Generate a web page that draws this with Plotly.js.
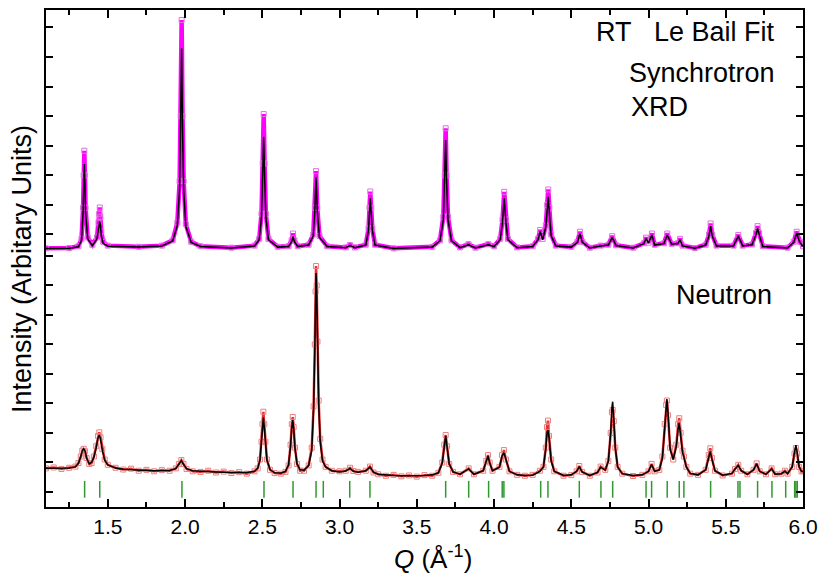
<!DOCTYPE html>
<html>
<head>
<meta charset="utf-8">
<script src="https://cdn.plot.ly/plotly-3.0.1.min.js"></script>
<style>html,body{margin:0;padding:0;background:#fff;}#chart{width:821px;height:574px;}</style>
</head>
<body>
<div id="chart"></div>
<script>
// ---- Synchrotron XRD (RT, Le Bail fit) ----
const xrdQ = [1.10,1.25,1.31,1.33,1.34,1.344,1.348,1.352,1.356,1.37,1.40,1.43,1.44,1.444,1.448,1.452,1.458,1.47,1.50,1.70,1.85,1.92,1.95,1.965,1.972,1.978,1.984,1.991,2.005,2.04,2.10,2.30,2.45,2.48,2.495,2.503,2.509,2.515,2.523,2.54,2.60,2.67,2.69,2.699,2.708,2.73,2.80,2.83,2.840,2.848,2.856,2.87,2.92,3.04,3.068,3.10,3.17,3.188,3.194,3.199,3.205,3.212,3.23,3.35,3.60,3.65,3.672,3.681,3.687,3.693,3.702,3.725,3.78,3.835,3.88,3.963,4.00,4.04,4.055,4.066,4.077,4.09,4.15,4.25,4.285,4.299,4.315,4.335,4.344,4.351,4.358,4.37,4.40,4.50,4.54,4.556,4.572,4.62,4.690,4.74,4.765,4.79,4.90,4.97,4.984,5.000,5.022,5.04,5.10,5.121,5.15,5.19,5.204,5.22,5.30,5.37,5.392,5.402,5.412,5.44,5.55,5.581,5.61,5.67,5.696,5.706,5.716,5.74,5.90,5.94,5.959,5.98,6.00];
const xrdObs = [0.53,0.54,0.60,0.85,1.90,3.00,3.83,3.00,1.90,0.90,0.65,0.90,1.40,1.70,1.91,1.60,1.10,0.75,0.62,0.58,0.62,0.80,1.40,2.80,5.00,8.25,5.00,2.80,1.35,0.75,0.60,0.55,0.62,0.85,1.70,3.40,5.07,3.40,1.70,0.85,0.58,0.60,0.80,1.03,0.80,0.60,0.65,1.00,1.90,3.14,1.90,0.95,0.60,0.56,0.64,0.56,0.65,1.20,1.90,2.45,1.90,1.20,0.65,0.53,0.58,0.80,1.60,3.00,4.59,3.00,1.60,0.80,0.56,0.67,0.55,0.67,0.60,0.85,1.50,2.44,1.50,0.85,0.56,0.60,0.85,1.15,0.85,1.30,2.00,2.52,1.90,1.00,0.62,0.58,0.75,1.09,0.75,0.55,0.62,0.65,0.94,0.63,0.55,0.70,0.89,0.72,1.03,0.65,0.70,1.03,0.68,0.70,0.85,0.62,0.54,0.65,1.00,1.37,1.00,0.62,0.62,0.98,0.62,0.66,1.05,1.28,1.05,0.60,0.55,0.75,1.09,0.75,0.60];
const xrdCalc = [0.52,0.53,0.58,0.80,1.75,2.75,3.38,2.75,1.75,0.85,0.62,0.85,1.20,1.38,1.43,1.35,0.95,0.70,0.60,0.57,0.61,0.78,1.30,2.55,4.50,7.30,4.50,2.55,1.28,0.73,0.59,0.54,0.61,0.82,1.60,3.00,4.30,3.00,1.60,0.82,0.57,0.59,0.75,0.92,0.75,0.59,0.64,0.95,1.80,2.93,1.80,0.90,0.59,0.55,0.62,0.55,0.64,1.15,1.75,2.22,1.75,1.15,0.64,0.52,0.57,0.78,1.50,2.80,4.19,2.80,1.50,0.78,0.55,0.65,0.54,0.65,0.59,0.82,1.40,2.22,1.40,0.82,0.55,0.59,0.82,1.10,0.82,1.25,1.85,2.27,1.75,0.95,0.61,0.57,0.73,1.02,0.73,0.54,0.61,0.64,0.90,0.62,0.54,0.69,0.86,0.71,0.98,0.64,0.69,0.98,0.67,0.69,0.82,0.61,0.53,0.64,0.95,1.28,0.95,0.61,0.61,0.94,0.61,0.65,1.00,1.20,1.00,0.59,0.54,0.73,1.03,0.73,0.59];

// ---- Neutron ----
const neuQ = [1.10,1.15,1.20,1.25,1.29,1.31,1.325,1.335,1.344,1.353,1.363,1.38,1.395,1.41,1.425,1.437,1.445,1.453,1.465,1.48,1.50,1.55,1.60,1.65,1.70,1.75,1.80,1.85,1.90,1.94,1.96,1.976,1.99,2.01,2.05,2.10,2.15,2.20,2.25,2.30,2.35,2.40,2.45,2.47,2.485,2.495,2.501,2.507,2.513,2.52,2.53,2.55,2.58,2.62,2.65,2.67,2.683,2.691,2.697,2.703,2.712,2.725,2.745,2.77,2.80,2.82,2.832,2.840,2.845,2.848,2.852,2.857,2.865,2.875,2.89,2.91,2.95,3.00,3.04,3.068,3.09,3.12,3.17,3.197,3.22,3.25,3.30,3.35,3.40,3.45,3.50,3.55,3.60,3.64,3.665,3.678,3.687,3.696,3.71,3.735,3.78,3.836,3.87,3.93,3.950,3.961,3.972,3.99,4.035,4.052,4.064,4.077,4.10,4.15,4.20,4.25,4.297,4.32,4.335,4.343,4.349,4.356,4.37,4.39,4.45,4.50,4.535,4.552,4.57,4.62,4.67,4.690,4.72,4.74,4.755,4.763,4.768,4.775,4.785,4.80,4.83,4.90,4.96,5.00,5.020,5.04,5.07,5.09,5.105,5.114,5.119,5.126,5.14,5.16,5.18,5.192,5.199,5.208,5.22,5.229,5.245,5.27,5.32,5.37,5.39,5.400,5.41,5.43,5.48,5.54,5.56,5.581,5.60,5.64,5.68,5.700,5.72,5.76,5.797,5.82,5.86,5.883,5.90,5.93,5.945,5.954,5.962,5.975,5.99,6.00];
const neuObs = [0.80,0.83,0.78,0.82,0.86,0.98,1.20,1.40,1.46,1.38,1.15,0.95,0.98,1.20,1.55,1.90,2.02,1.85,1.45,1.10,0.92,0.82,0.76,0.79,0.72,0.75,0.70,0.74,0.72,0.80,0.95,1.08,0.95,0.78,0.70,0.68,0.72,0.66,0.69,0.64,0.67,0.62,0.70,0.80,1.10,1.70,2.30,2.72,2.30,1.70,1.10,0.75,0.64,0.62,0.68,0.90,1.60,2.30,2.54,2.20,1.50,0.95,0.72,0.72,0.90,1.50,2.90,5.00,6.80,7.66,7.00,5.10,3.10,1.80,1.10,0.85,0.72,0.70,0.72,0.82,0.71,0.68,0.72,0.86,0.66,0.60,0.55,0.58,0.53,0.56,0.52,0.57,0.55,0.65,1.00,1.60,1.93,1.55,0.95,0.68,0.60,0.80,0.60,0.72,1.05,1.25,1.00,0.72,0.85,1.25,1.42,1.10,0.70,0.58,0.55,0.58,0.72,0.85,1.50,2.20,2.42,1.90,1.10,0.70,0.55,0.57,0.70,0.88,0.68,0.55,0.66,0.86,0.75,1.05,2.00,2.70,2.78,2.40,1.50,0.85,0.62,0.54,0.58,0.70,0.95,0.70,0.75,1.20,2.30,2.95,3.10,2.60,1.50,1.10,1.60,2.30,2.50,2.00,1.40,1.20,0.85,0.62,0.58,0.75,1.25,1.48,1.15,0.72,0.56,0.62,0.78,0.92,0.72,0.60,0.75,0.97,0.70,0.60,0.80,0.60,0.62,0.72,0.62,0.85,1.30,1.49,1.30,0.85,0.70,0.70];
const neuCalc = [0.80,0.80,0.80,0.81,0.85,0.97,1.20,1.40,1.47,1.38,1.15,0.95,1.00,1.18,1.50,1.85,1.93,1.80,1.40,1.08,0.92,0.81,0.77,0.75,0.74,0.73,0.72,0.72,0.73,0.79,0.95,1.06,0.94,0.79,0.72,0.70,0.69,0.68,0.67,0.66,0.66,0.66,0.70,0.80,1.08,1.65,2.20,2.52,2.20,1.62,1.08,0.76,0.65,0.64,0.70,0.92,1.55,2.20,2.44,2.15,1.45,0.95,0.75,0.74,0.90,1.40,2.80,4.80,6.60,7.42,6.80,4.90,3.00,1.70,1.05,0.85,0.72,0.68,0.71,0.80,0.70,0.67,0.72,0.84,0.67,0.60,0.57,0.56,0.55,0.55,0.55,0.56,0.58,0.65,0.98,1.55,1.90,1.52,0.95,0.68,0.60,0.78,0.60,0.72,1.02,1.22,0.98,0.72,0.84,1.22,1.33,1.08,0.70,0.58,0.56,0.57,0.70,0.85,1.45,2.00,2.10,1.85,1.05,0.70,0.56,0.58,0.70,0.86,0.68,0.56,0.66,0.84,0.74,1.05,2.00,2.85,3.06,2.50,1.50,0.85,0.62,0.56,0.58,0.70,0.93,0.70,0.75,1.15,2.30,3.00,3.15,2.70,1.45,1.10,1.55,2.15,2.33,1.90,1.35,1.18,0.85,0.63,0.58,0.75,1.20,1.37,1.12,0.72,0.57,0.63,0.78,0.90,0.72,0.60,0.75,0.95,0.70,0.60,0.78,0.60,0.62,0.70,0.62,0.85,1.35,1.59,1.35,0.85,0.70,0.68];

// ---- Bragg reflection positions ----
const braggQ = [1.350,1.448,1.980,2.511,2.699,2.848,2.895,3.066,3.197,3.687,3.836,3.965,4.053,4.064,4.302,4.349,4.552,4.692,4.768,4.984,5.020,5.121,5.199,5.229,5.402,5.579,5.592,5.706,5.799,5.888,5.946,5.954,5.963];

const fam = 'Arial, "Liberation Sans", sans-serif';
const xTickFont = {family: fam, size: 21, color: '#000'};
const txtFont = {family: fam, size: 27, color: '#000'};

const traces = [
  {x: xrdQ, y: xrdObs, yaxis: 'y2', type: 'scatter', mode: 'lines+markers',
   line: {color: '#ff00ff', width: 4.5},
   marker: {symbol: 'square-open', size: 5, color: '#e070e0', line: {width: 1}},
   name: 'XRD obs'},
  {x: xrdQ, y: xrdCalc, yaxis: 'y2', type: 'scatter', mode: 'lines',
   line: {color: '#000', width: 1.5}, name: 'XRD calc'},
  {x: neuQ, y: neuObs, type: 'scatter', mode: 'lines+markers',
   line: {color: '#ee3030', width: 2.5},
   marker: {symbol: 'square-open', size: 5, color: '#e88080', line: {width: 1}},
   name: 'Neutron obs'},
  {x: neuQ, y: neuCalc, type: 'scatter', mode: 'lines',
   line: {color: '#000', width: 1.5}, name: 'Neutron calc'},
  {x: braggQ, y: braggQ.map(() => 0.09), type: 'scatter', mode: 'markers',
   marker: {symbol: 'line-ns', size: 12, line: {color: '#2e9a2e', width: 1.5}},
   name: 'Bragg'}
];

const layout = {
  width: 821, height: 574,
  margin: {l: 46, r: 18, t: 10, b: 67},
  paper_bgcolor: '#fff', plot_bgcolor: '#fff',
  showlegend: false,
  xaxis: {
    range: [1.1, 6.0], dtick: 0.5, tick0: 0, tickformat: '.1f',
    ticks: 'inside', ticklen: 8, tickwidth: 2, tickcolor: '#000',
    showline: true, linewidth: 2, linecolor: '#000', mirror: 'ticks',
    showgrid: false, zeroline: false, tickfont: xTickFont,
    minor: {dtick: 0.25, tick0: 0, ticks: 'inside', ticklen: 5, tickwidth: 2, tickcolor: '#000', showgrid: false}
  },
  yaxis: {
    range: [-0.51, 16.34], tickvals: [0,1,2,3,4,5,6,7,8],
    showticklabels: false, ticks: 'inside', ticklen: 7, tickwidth: 2, tickcolor: '#000',
    showline: true, linewidth: 2, linecolor: '#000', mirror: 'ticks',
    showgrid: false, zeroline: false
  },
  yaxis2: {
    overlaying: 'y', anchor: 'x', side: 'left',
    range: [-8.22, 8.59], tickvals: [1,2,3,4,5,6,7,8],
    showticklabels: false, ticks: 'inside', ticklen: 7, tickwidth: 2, tickcolor: '#000',
    showline: true, linewidth: 2, linecolor: '#000', mirror: 'ticks',
    showgrid: false, zeroline: false
  },
  annotations: [
    {text: 'RT\u00a0\u00a0\u00a0Le Bail Fit', xref: 'paper', yref: 'paper', x: (777-46)/757, y: (507-32)/497,
     xanchor: 'right', yanchor: 'middle', showarrow: false, font: txtFont},
    {text: 'Synchrotron', xref: 'paper', yref: 'paper', x: (777-46)/757, y: (507-73)/497,
     xanchor: 'right', yanchor: 'middle', showarrow: false, font: txtFont},
    {text: 'XRD', xref: 'paper', yref: 'paper', x: (629-46)/757, y: (507-107)/497,
     xanchor: 'left', yanchor: 'middle', showarrow: false, font: txtFont},
    {text: 'Neutron', xref: 'paper', yref: 'paper', x: (774-46)/757, y: (507-295)/497,
     xanchor: 'right', yanchor: 'middle', showarrow: false, font: txtFont},
    {text: 'Intensity (Arbitary Units)', xref: 'paper', yref: 'paper', x: (22-46)/757, y: (507-269)/497,
     xanchor: 'center', yanchor: 'middle', textangle: -90, showarrow: false, font: txtFont},
    {text: '<i>Q</i> (Å<sup>-1</sup>)', xref: 'paper', yref: 'paper', x: (433-46)/757, y: (507-557)/497,
     xanchor: 'center', yanchor: 'middle', showarrow: false, font: {family: fam, size: 26, color: '#000'}}
  ]
};

Plotly.newPlot('chart', traces, layout, {displayModeBar: false, staticPlot: true});
</script>
</body>
</html>
